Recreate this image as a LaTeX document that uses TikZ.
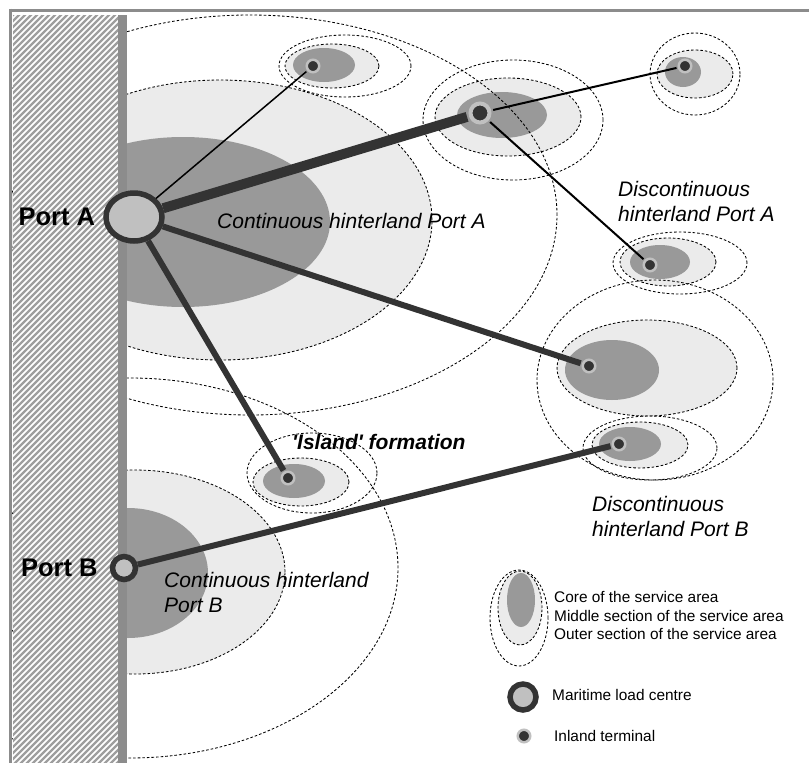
\documentclass[tikz,border=0pt]{standalone}
\usepackage{fontspec}
\setmainfont{Liberation Sans}
\usetikzlibrary{shapes.geometric,positioning}

\definecolor{coregray}{HTML}{999999}
\definecolor{midgray}{HTML}{EBEBEB}
\definecolor{darkline}{HTML}{333333}
\definecolor{portfill}{HTML}{C0C0C0}
\definecolor{framegray}{HTML}{8C8C8C}
\definecolor{hatchgray}{HTML}{9E9E9E}

\begin{document}
\begin{tikzpicture}[x=1pt, y=-1pt,
    zone/.style={dash pattern=on 2.6pt off 2pt, line width=0.85pt},
    core/.style={fill=coregray},
    mid/.style={fill=midgray, draw=black, zone},
    outerzone/.style={draw=black, zone},
    port/.style={circle, fill=portfill, draw=darkline, line width=5.5pt, inner sep=0pt, minimum size=23pt},
    term/.style={circle, fill=darkline, draw=portfill, line width=2.5pt, inner sep=0pt, minimum size=12.5pt},
    heavy/.style={draw=darkline, line width=10pt},
    road/.style={draw=darkline, line width=6pt},
    feeder/.style={draw=black, line width=2pt},
    areatext/.style={font=\fontsize{21}{25}\selectfont\itshape, align=left, inner sep=0pt, anchor=west},
    portname/.style={font=\fontsize{25.5}{28}\selectfont\bfseries, inner sep=0pt},
    keytext/.style={font=\fontsize{15.4}{18}\selectfont, inner sep=0pt, anchor=west}]
    \useasboundingbox (0,0) rectangle (809,763);

    \begin{scope}
    \clip (12,12) rectangle (809,763);
    % middle sections
    \filldraw[mid] (220,220) ellipse [x radius=212pt, y radius=140pt];
    \filldraw[mid] (135,572) ellipse [x radius=150pt, y radius=102pt];
    \filldraw[mid] (332,66) ellipse [x radius=47pt, y radius=22pt];
    \filldraw[mid] (508,117) ellipse [x radius=73pt, y radius=39pt];
    \filldraw[mid] (695,74) ellipse [x radius=38pt, y radius=24pt];
    \filldraw[mid] (668,262) ellipse [x radius=48pt, y radius=24pt];
    \filldraw[mid] (647,368) ellipse [x radius=90pt, y radius=48pt];
    \filldraw[mid] (301,482) ellipse [x radius=48pt, y radius=24pt];
    \filldraw[mid] (640,445) ellipse [x radius=48pt, y radius=23pt];
    \filldraw[mid] (520,608) ellipse [x radius=22pt, y radius=37pt];

    % cores
    \fill[core] (183,222) ellipse [x radius=147pt, y radius=85pt];
    \fill[core] (128,573) ellipse [x radius=80pt, y radius=65pt];
    \fill[core] (324,65) ellipse [x radius=31pt, y radius=17pt];
    \fill[core] (502,115) ellipse [x radius=45pt, y radius=23pt];
    \fill[core] (683,72) ellipse [x radius=18pt, y radius=15pt];
    \fill[core] (660,262) ellipse [x radius=30pt, y radius=17pt];
    \fill[core] (612,370) ellipse [x radius=47pt, y radius=30pt];
    \fill[core] (294,481) ellipse [x radius=31pt, y radius=17pt];
    \fill[core] (630,444) ellipse [x radius=31pt, y radius=17pt];
    \fill[core] (521,600) ellipse [x radius=14pt, y radius=27pt];

    % outer sections
    \draw[outerzone] (250,215) ellipse [x radius=307pt, y radius=200pt];
    \draw[outerzone] (130,568) ellipse [x radius=268pt, y radius=190pt];
    \draw[outerzone] (345,66) ellipse [x radius=66pt, y radius=31pt];
    \draw[outerzone] (513,120) ellipse [x radius=90pt, y radius=60pt];
    \draw[outerzone] (695,74) ellipse [x radius=45pt, y radius=41pt];
    \draw[outerzone] (680,263) ellipse [x radius=67pt, y radius=31pt];
    \draw[outerzone] (655,380) ellipse [x radius=118pt, y radius=100pt];
    \draw[outerzone] (312,473) ellipse [x radius=65pt, y radius=40pt];
    \draw[outerzone] (650,448) ellipse [x radius=67pt, y radius=32pt];
    \draw[outerzone] (519,618) ellipse [x radius=29pt, y radius=48pt];
    \end{scope}

    % coast
    \fill[white] (13,15) rectangle (118,763);
    \begin{scope}
        \clip (13,15) rectangle (118,763);
        \foreach \k in {-760,-754,...,124}
            \draw[hatchgray, line width=2.4pt] (\k,770) -- ++(800,-800);
    \end{scope}
    \fill[framegray] (118,15) rectangle (127,763);
    \draw[framegray, line width=3pt] (9,10) -- (809,10);
    \draw[framegray, line width=3pt] (10.5,8.5) -- (10.5,763);

    % ports and terminals
    \node[port, ellipse, minimum width=56pt, minimum height=48pt] (portA) at (134,217) {};
    \node[port] (portB) at (124,568) {};
    \node[term] (t1) at (313,66) {};
    \node[term, minimum size=19pt, line width=4pt] (a1) at (480,113) {};
    \node[term] (t2) at (685,66) {};
    \node[term] (t3) at (650,265) {};
    \node[term] (t4) at (589,366) {};
    \node[term] (t5) at (288,478) {};
    \node[term] (t6) at (619,444) {};

    \draw[feeder, line width=1.5pt, shorten >=1.2pt] (portA) -- (t1);
    \draw[heavy, shorten >=2pt] (portA) -- (a1);
    \draw[feeder, shorten <=2pt, shorten >=1.2pt] (a1) -- (t2);
    \draw[feeder, shorten <=2pt, shorten >=1.2pt] (a1) -- (t3);
    \draw[road, shorten >=1.2pt] (portA) -- (t4);
    \draw[road, shorten >=1.2pt] (portA) -- (t5);
    \draw[road, shorten >=1.2pt] (portB) -- (t6);

    \node[portname, left=8pt of portA] (nameA) {Port A};
    \node[portname, left=12pt of portB] (nameB) {Port B};

    % area labels
    \node[areatext] (contA) at (217,221) {Continuous hinterland Port A};
    \node[areatext] (discA) at (618,201) {Discontinuous\\hinterland Port A};
    \node[areatext, font=\fontsize{21}{25}\selectfont\bfseries\itshape] (island) at (292,442) {\textquotesingle Island\textquotesingle\ formation};
    \node[areatext] (discB) at (592,516) {Discontinuous\\hinterland Port B};
    \node[areatext] (contB) at (164,592) {Continuous hinterland\\Port B};

    % legend
    \node[keytext] (kcore) at (554,597) {Core of the service area};
    \node[keytext] (kmid) at (554,616) {Middle section of the service area};
    \node[keytext] (kout) at (554,634) {Outer section of the service area};
    \node[port, minimum size=26pt] (kportsym) at (523,697) {};
    \node[keytext] (kport) at (552,695) {Maritime load centre};
    \node[term] (ktermsym) at (524,736) {};
    \node[keytext] (kterm) at (554,736) {Inland terminal};
\end{tikzpicture}
\end{document}
